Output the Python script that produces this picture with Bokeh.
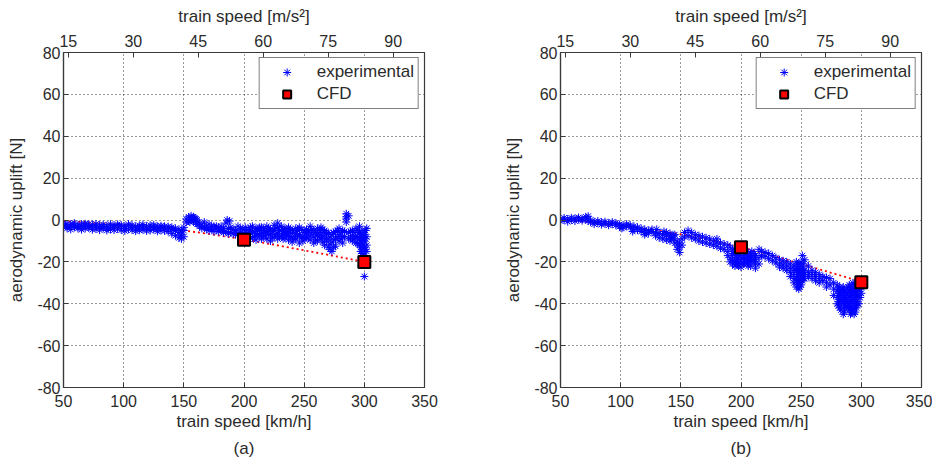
from bokeh.plotting import figure
from bokeh.models import Range1d, LinearAxis, FixedTicker, Title
from bokeh.layouts import row
from bokeh.embed import file_html
from bokeh.resources import INLINE

# ---------------- data ----------------
speed_ticks = [50, 100, 150, 200, 250, 300, 350]
ms_ticks = [15, 30, 45, 60, 75, 90]
uplift_ticks = [-80, -60, -40, -20, 0, 20, 40, 60, 80]

cfd_speed = [200, 300]
cfd_a_uplift = [-9.4, -20.1]
cfd_b_uplift = [-13.0, -29.7]

trend_speed = [50, 75, 100, 125, 150, 175, 200, 225, 250, 275, 300]
trend_a_uplift = [-0.5, -1.3, -2.3, -3.5, -5.0, -7.0, -9.3, -11.8, -14.5, -17.2, -20.0]
trend_b_uplift = [0.0, -1.0, -2.5, -4.5, -6.8, -9.7, -13.0, -16.8, -21.0, -25.2, -29.5]

exp_a_speed = [50, 53, 56, 59, 62, 65, 68, 71, 74, 77, 80, 83, 86, 89, 92, 95, 98,
               101, 104, 107, 110, 113, 116, 119, 122, 125, 128, 131, 134, 137, 140,
               143, 146, 148, 150, 152, 154, 155, 156, 157, 158, 159, 160, 161, 163,
               165, 167, 169, 171, 173, 175, 177, 179, 181, 183, 185, 186, 187, 188,
               189, 191, 193, 195, 197, 199, 201, 204, 207, 210, 213, 216, 219, 222,
               225, 228, 231, 234, 237, 240, 243, 246, 249, 252, 255, 258, 261, 264,
               267, 270, 273, 276, 279, 282, 285, 287, 290, 293, 296, 298, 300, 302,
               202.5, 205.5, 208.5, 211.5, 214.5, 217.5, 220.5, 223.5, 226.5, 229.5,
               232.5, 235.5, 238.5, 241.5, 244.5, 247.5, 250.5, 253.5, 256.5, 259.5,
               262.5, 265.5, 268.5, 271.5, 274.5, 277.5, 280.5, 283.5, 288.5, 291.5,
               294.5, 297, 299, 301]
exp_a_uplift = [[-2.5, -3.5, -1.8], [-2, -4, -3], [-3, -2, -4.5], [-3.5, -2.5, -1.5],
                [-2.5, -4, -3.2], [-3, -2, -4.6], [-2.5, -4, -1.8], [-3, -3.8, -2],
                [-2.2, -3.5, -4.6], [-3, -4.2, -1.9], [-2.5, -3.6, -4.8], [-3.2, -4, -2.2],
                [-2.8, -3.8, -5], [-3, -4.5, -2], [-3.5, -2.6, -4.8], [-3, -4.2, -2.1],
                [-3.4, -4.8, -2.5], [-3, -4, -5.2], [-2.8, -4.4, -2], [-3.5, -2.5, -4.8],
                [-3, -4.2, -5.3], [-2.6, -3.8, -4.9], [-3.2, -4.6, -2.2], [-3, -4, -5.2],
                [-2.5, -3.8, -5], [-3.3, -4.5, -2.4], [-3, -4.2, -5.4], [-3.5, -5, -2.8],
                [-3.8, -5.2, -3], [-4, -5.5, -3.2], [-4.5, -6.5, -3.5], [-5, -7.5, -4],
                [-6, -8.5, -4.5], [-7, -9, -5], [-5, -3.5, -8],
                [0.5, -1], [1.5, -0.5], [-1], [2, 0], [0.5], [-0.5, 1.5], [1], [-1.5, 0.5],
                [0, -2], [-1.5, -3], [-2.5, -4], [-1, -3.5], [-3, -4.5], [-2, -5],
                [-4, -3], [-3, -5.5], [-4.5, -3], [-3.5, -5.5], [-5, -3], [-4, -6],
                [-5.5, -1.5], [0], [-4, -6.5], [-0.5], [-6, -3.5], [-4.5, -6.5],
                [-5, -7], [-3, -6], [-6, -4], [-4.5, -7],
                [-3.5, -6, -8], [-4.5, -7, -9], [-3, -5.5, -8.5], [-4, -6.5, -9.5],
                [-5, -7.5, -3.5], [-4, -6, -8], [-3, -5.5, -9], [-4.5, -7, -10],
                [-2.5, -5, -8], [-1.5, -3.5, -6.5, -9], [-5, -7.5, -3], [-4, -6, -8.5],
                [-3.5, -6.5, -9.5], [-5, -8, -10.5], [-4, -6.5, -9], [-3.5, -7, -11],
                [-5, -8, -10], [-4.5, -7.5, -6], [-3, -6, -9.5], [-5, -8, -11],
                [-4, -7, -10], [-3.5, -6, -9], [-5, -8.5, -12], [-6, -9, -13],
                [-7, -10.5, -15], [-5.5, -9, -12.5], [-4, -7, -10], [-5, -8, -11],
                [1.5, 3, -1, 0.5], [-6, -9, 2], [-5, -7.5, -10], [-4, -8, -11],
                [-3, -6, -9, -12], [-5, -8, -11, -14, -16], [-7, -10, -13, -17, -27],
                [-4, -8, -12, -15],
                [-5, -7.5], [-3.5, -6], [-5.5, -8], [-4.5, -7], [-3.5, -6.5, -9],
                [-5, -7.5], [-4, -6.5], [-5.5, -8.5], [-4, -7], [-5, -8],
                [-4.5, -6.5, -9], [-5.5, -7.5], [-4.5, -8], [-6, -9], [-5, -7.5],
                [-4.5, -8.5], [-6, -9], [-5, -8.5], [-4.5, -7], [-6, -9.5],
                [-5, -8], [-4.5, -7.5, -10.5], [-6.5, -10], [-8, -11.5, -14],
                [-6, -9.5, -13], [-5, -8], [-6, -9], [-5.5, -8], [-5.5, -8.5], [-6, -9],
                [-5, -8, -11], [-7, -10, -13, -15], [-6, -9, -12, -16, -18], [-5, -9, -14]]

exp_b_speed = [50, 53, 56, 59, 62, 65, 68, 71, 73, 75, 78, 81, 84, 87, 90, 93, 96, 99,
               102, 105, 108, 111, 114, 117, 120, 123, 126, 129, 132, 135, 138, 141,
               144, 147, 149, 151, 153, 156, 159, 162, 165, 168, 171, 174, 177, 180,
               183, 186, 189, 191, 193, 195, 197, 200, 203, 206, 209, 212, 215, 217,
               220, 223, 226, 229, 232, 235, 238, 241, 244, 247, 249, 251, 253, 256,
               259, 262, 265, 268, 271, 274, 277, 280, 282, 284, 286, 288, 290, 292,
               294, 296, 298, 300,
               101, 110, 120, 130, 136, 142, 145, 196, 198, 202, 205, 208, 211,
               246, 248, 250, 252, 281, 283, 285, 287, 289, 291, 293, 295, 297, 299]
exp_b_uplift = [[0.5, -0.5], [0, 1], [0.5, -0.8], [0, 1], [0.8, -0.5], [0.3, 1.2],
                [0.5, -0.3], [1.5, 0.5], [1.8, -0.5], [-1, 0], [-0.8, -2], [-1.5, -0.5],
                [-1, -2.2], [-1.8, -0.8], [-1.5, -2.5], [-2, -1], [-2.5, -1.5],
                [-2.2, -3.2], [-2.5, -3.5], [-3, -2], [-3.5, -2.5], [-3, -4.5],
                [-3.5, -4.8], [-4, -5.5], [-4.5, -6], [-5, -6.5], [-5.5, -4.5],
                [-6, -7.5], [-6.5, -8.5], [-7, -9], [-7.5, -9.5, -6], [-8, -10, -6.5],
                [-7.5, -9], [-10, -12, -14], [-11, -13, -15.5], [-9, -12], [-6, -8],
                [-5, -7.5], [-6, -8.5], [-7, -9], [-7.5, -10], [-8, -10.5], [-8.5, -11],
                [-9, -11.5], [-10, -12], [-10.5, -12.5, -9], [-11, -13.5], [-11.5, -14],
                [-12, -15, -17], [-13, -18, -20], [-14, -16, -19, -21],
                [-15, -17, -20, -22], [-14, -18, -21], [-15, -17, -19, -21, -22.5],
                [-14, -16, -18, -20], [-16, -18, -20, -22], [-15, -17, -19],
                [-17, -19, -21, -23], [-14, -18, -21], [-15, -17], [-15.5, -17.5],
                [-16, -18.5], [-17, -19.5], [-18, -20.5], [-19, -21, -22.5],
                [-19.5, -21.5, -23], [-20, -22, -24], [-21, -23, -25, -27],
                [-22, -24, -26, -28, -30], [-21, -23, -25, -27, -29, -31],
                [-22, -24, -26, -28, -30, -32], [-17, -23, -25, -27, -29],
                [-19, -24, -26, -28], [-22, -25, -27], [-24, -26, -28], [-25, -27, -29],
                [-26, -28, -30], [-27, -29], [-27.5, -30, -32], [-28, -31],
                [-30, -33, -36], [-31, -34, -37, -40], [-32, -35, -38, -42],
                [-33, -36, -39], [-34, -37, -40, -44], [-33, -36, -38, -41],
                [-31, -34, -37, -40, -43], [-32, -35, -38, -41, -44],
                [-31, -34, -37, -40, -42, -45], [-30, -33, -36, -39, -42],
                [-31, -34, -37, -40], [-32, -35],
                [-4], [-5.5], [-7], [-4.5], [-5.5], [-9], [-7, -11],
                [-16, -19, -21], [-14, -17, -20, -22], [-15, -18, -21], [-17, -19, -21],
                [-16, -18, -20, -22], [-16, -18, -20],
                [-20, -24, -28, -32], [-21, -25, -29, -33], [-20, -24, -27, -31],
                [-21, -25, -28],
                [-33, -36, -39, -41], [-34, -37, -40, -43], [-32, -35, -38, -42, -45],
                [-35, -38, -41], [-32, -35, -39, -42], [-33, -36, -39, -42, -45],
                [-30, -33, -36, -39, -43], [-32, -35, -38, -41, -44],
                [-30, -33, -36, -40], [-30, -33, -37]]

FONT = "Liberation Sans"
TXT = "#2b2b2b"
AX = "#3a3a3a"


def flatten(speeds, groups):
    xs, ys = [], []
    for s, g in zip(speeds, groups):
        for v in g:
            xs.append(s)
            ys.append(v)
    return xs, ys


def style_axis(ax):
    ax.axis_line_color = AX
    ax.axis_line_width = 1.2
    ax.major_tick_line_color = AX
    ax.major_tick_in = 5
    ax.major_tick_out = 0
    ax.minor_tick_line_color = None
    ax.major_label_text_font = FONT
    ax.major_label_text_font_size = "16px"
    ax.major_label_text_color = TXT
    ax.axis_label_text_font = FONT
    ax.axis_label_text_font_size = "17px"
    ax.axis_label_text_font_style = "normal"
    ax.axis_label_text_color = TXT
    ax.major_label_standoff = 3
    ax.axis_label_standoff = 0


def make_panel(caption, exp_speed, exp_uplift, trend_uplift, cfd_uplift, border_right):
    p = figure(frame_width=361, frame_height=335,
               x_range=Range1d(50, 350), y_range=Range1d(-80, 80),
               output_backend="svg", toolbar_location=None,
               min_border_left=63, min_border_right=border_right,
               min_border_top=52, min_border_bottom=68,
               x_axis_label="train speed [km/h]",
               y_axis_label="aerodynamic uplift [N]",
               background_fill_color="white", border_fill_color="white")
    p.outline_line_color = AX
    p.outline_line_width = 1.2

    style_axis(p.xaxis[0])
    style_axis(p.yaxis[0])
    p.xaxis[0].ticker = FixedTicker(ticks=speed_ticks)
    p.xaxis[0].major_label_standoff = 7
    p.xaxis[0].axis_label_standoff = 2
    p.yaxis[0].ticker = FixedTicker(ticks=uplift_ticks)
    p.yaxis[0].axis_label_standoff = 8
    p.yaxis[0].major_label_overrides = {t: str(t) for t in uplift_ticks}

    p.extra_x_ranges = {"ms": Range1d(50 / 3.6, 350 / 3.6)}
    top = LinearAxis(x_range_name="ms", axis_label="train speed [m/s\u00b2]",
                     ticker=FixedTicker(ticks=ms_ticks))
    style_axis(top)
    top.major_label_standoff = 6
    top.axis_label_standoff = 6
    p.add_layout(top, "above")

    for g in (p.xgrid[0], p.ygrid[0]):
        g.grid_line_color = "#333333"
        g.grid_line_dash = "1 3"
        g.grid_line_width = 1
    p.xgrid[0].ticker = FixedTicker(ticks=speed_ticks)
    p.ygrid[0].ticker = FixedTicker(ticks=uplift_ticks)

    p.line(trend_speed, trend_uplift, line_color="#ff0000", line_dash="2 3",
           line_width=1.8)
    xs, ys = flatten(exp_speed, exp_uplift)
    p.scatter(xs, ys, marker="asterisk", size=8, line_color="#0000ff",
              line_width=1, legend_label="experimental")
    p.scatter(cfd_speed, cfd_uplift, marker="square", size=12,
              fill_color="#ff0000", line_color="#000000", line_width=2,
              legend_label="CFD")

    lg = p.legend[0]
    lg.location = "top_right"
    lg.margin = 5
    lg.padding = 4
    lg.spacing = 2
    lg.label_height = 20
    lg.glyph_width = 46
    lg.glyph_height = 20
    lg.label_standoff = 7
    lg.label_text_font = FONT
    lg.label_text_font_size = "17px"
    lg.label_text_color = TXT
    lg.border_line_color = "#000000"
    lg.border_line_width = 1
    lg.background_fill_alpha = 1

    p.add_layout(Title(text=caption, align="center", text_font=FONT,
                       text_font_size="17px", text_font_style="normal",
                       text_color=TXT, standoff=6), "below")
    return p


p1 = make_panel("(a)", exp_a_speed, exp_a_uplift, trend_a_uplift, cfd_a_uplift, 73)
p2 = make_panel("(b)", exp_b_speed, exp_b_uplift, trend_b_uplift, cfd_b_uplift, 11)

layout = row(p1, p2)
open("out.html", "w").write(file_html(layout, INLINE))
